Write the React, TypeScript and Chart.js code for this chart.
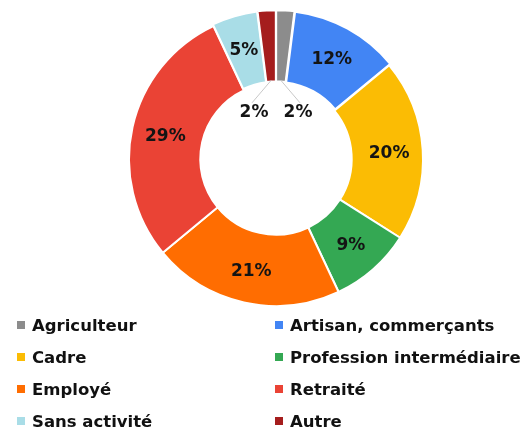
import React, { useEffect, useRef } from "react";
import { Chart, registerables } from "chart.js";

Chart.register(...registerables);

const categories = [
  "Agriculteur",
  "Artisan, commerçants",
  "Cadre",
  "Profession intermédiaire",
  "Employé",
  "Retraité",
  "Sans activité",
  "Autre",
];
const values = [2, 12, 20, 9, 21, 29, 5, 2];
const colors = [
  "#8c8c8c",
  "#4285f4",
  "#fbbc04",
  "#34a853",
  "#ff6d01",
  "#ea4335",
  "#a9dde7",
  "#a51d1d",
];
const sliceOffsets = [4, 5, 0, 0, 0, 0, 4, 4];

const FONT = '"DejaVu Sans", "Liberation Sans", Arial, sans-serif';

const labelPlugin = {
  id: "sliceLabels",
  afterDatasetsDraw(chart: any) {
    const ctx = chart.ctx;
    const meta = chart.getDatasetMeta(0);
    const data = chart.data.datasets[0].data as number[];
    const total = data.reduce((a, b) => a + b, 0);
    ctx.save();
    ctx.font = `bold 17px ${FONT}`;
    ctx.fillStyle = "#141414";
    ctx.textAlign = "center";
    ctx.textBaseline = "middle";
    meta.data.forEach((arc: any, i: number) => {
      const v = data[i];
      const pct = Math.round((v / total) * 100) + "%";
      const { x, y, startAngle, endAngle, innerRadius, outerRadius } = arc.getProps(
        ["x", "y", "startAngle", "endAngle", "innerRadius", "outerRadius"],
        true
      );
      const off = arc.options.offset || 0;
      const mid = (startAngle + endAngle) / 2;
      if (v >= 4) {
        const r = (innerRadius + outerRadius) / 2 + off / 2 + 2;
        ctx.fillText(pct, x + Math.cos(mid) * r, y + Math.sin(mid) * r + 2);
      } else {
        const side = Math.cos(mid) >= 0 ? 1 : -1;
        const lx = x + side * 22;
        const ly = y - innerRadius * 0.61;
        const sx = x + Math.cos(mid) * (innerRadius + off - 1);
        const sy = y + Math.sin(mid) * (innerRadius + off - 1);
        ctx.save();
        ctx.strokeStyle = "#c8c8c8";
        ctx.lineWidth = 1;
        ctx.beginPath();
        ctx.moveTo(sx, sy);
        ctx.lineTo(lx + side * 2, ly - 10);
        ctx.stroke();
        ctx.restore();
        ctx.fillText(pct, lx, ly);
      }
    });
    ctx.restore();
  },
};

export default function App() {
  const canvasRef = useRef<HTMLCanvasElement | null>(null);

  useEffect(() => {
    if (!canvasRef.current) return;
    const chart = new Chart(canvasRef.current, {
      type: "doughnut",
      data: {
        labels: categories,
        datasets: [
          {
            data: values,
            backgroundColor: colors,
            borderColor: "#ffffff",
            borderWidth: 2,
            offset: sliceOffsets,
          },
        ],
      },
      options: {
        animation: false,
        responsive: false,
        maintainAspectRatio: false,
        radius: 147,
        cutout: "51.5%",
        layout: { padding: { left: 28, right: 0, top: 2, bottom: 0 } },
        plugins: {
          legend: { display: false },
          tooltip: { enabled: false },
          title: { display: false },
        },
      },
      plugins: [labelPlugin],
    });
    return () => chart.destroy();
  }, []);

  return (
    <div
      style={{
        position: "absolute",
        left: 0,
        top: 0,
        width: 524,
        height: 430,
        overflow: "hidden",
        background: "#ffffff",
      }}
    >
      <canvas
        ref={canvasRef}
        width={524}
        height={316}
        style={{ position: "absolute", left: 0, top: 0, width: 524, height: 316 }}
      />
      <div
        style={{
          position: "absolute",
          left: 17,
          top: 309,
          display: "grid",
          gridTemplateColumns: "258px 250px",
          gridAutoRows: "32px",
          fontFamily: FONT,
          fontWeight: "bold",
          fontSize: 16.5,
          color: "#111111",
        }}
      >
        {categories.map((c, i) => (
          <div
            key={c}
            style={{ display: "flex", alignItems: "center", whiteSpace: "nowrap" }}
          >
            <span
              style={{
                display: "inline-block",
                width: 8,
                height: 8,
                background: colors[i],
                marginRight: 7,
                flex: "none",
              }}
            />
            <span>{c}</span>
          </div>
        ))}
      </div>
    </div>
  );
}
